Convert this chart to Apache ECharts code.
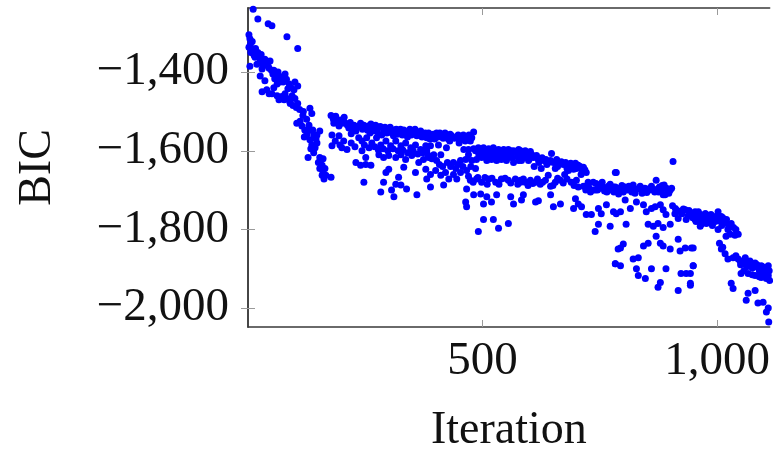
<!DOCTYPE html>
<html>
<head>
<meta charset="utf-8">
<script src="https://cdn.jsdelivr.net/npm/echarts@6/dist/echarts.min.js"></script>
<style>
html,body{margin:0;padding:0;background:#fff;}
#chart{width:773px;height:459px;}
</style>
</head>
<body>
<div id="chart"></div>
<script>
// [iteration, BIC], grouped by stretch of the run
var phaseA=[[11,-1240],[21,-1265],[43,-1277],[51,-1282],[83,-1310],[106,-1340],
[2,-1305],[9,-1322],[2,-1337],[11,-1342],[21,-1350],[15,-1362],[26,-1372],[36,-1367],[47,-1372],[4,-1385],[19,-1380],[30,-1392],[43,-1385],
[6,-1350],[13,-1357],[32,-1380],[55,-1395],[4,-1315],
[5,-1330],[8,-1345],[16,-1340],[24,-1360],[28,-1355],[33,-1370],[39,-1378],[45,-1390],[50,-1395],[58,-1400],[60,-1410],[66,-1415],[70,-1420],[75,-1425],[82,-1418],[88,-1430],[92,-1440],[98,-1445],
[26,-1410],[36,-1422],[53,-1405],[57,-1417],[64,-1400],[72,-1412],[79,-1405],[62,-1430],[68,-1425],[100,-1425],[106,-1435],
[30,-1450],[40,-1445],[51,-1455],[62,-1460],[72,-1462],[79,-1455],[83,-1467],[89,-1475],[94,-1460],[100,-1467],[96,-1485],[106,-1480],[85,-1442],
[55,-1440],[45,-1455],[66,-1470],[77,-1470],[90,-1480],[103,-1490],[110,-1495],[118,-1500],
[132,-1492],[136,-1505],[117,-1510],[111,-1525],[104,-1530],[115,-1537],[121,-1547],[128,-1550],[138,-1547],[147,-1560],[125,-1560],[132,-1572],[136,-1585],[147,-1580],[153,-1550],[143,-1592],[128,-1617],
[125,-1520],[130,-1535],[140,-1560],[120,-1565],[134,-1595],[140,-1605],[145,-1570],
[153,-1617],[160,-1620],[150,-1630],[158,-1637],[153,-1645],[164,-1645],[160,-1655],[166,-1662],[158,-1662],[162,-1672]];

var phaseB=[[177,-1510],[187,-1512],[198,-1522],[183,-1530],[194,-1537],[208,-1530],[215,-1542],[226,-1535],[236,-1537],[247,-1535],[257,-1537],[268,-1542],[279,-1540],[289,-1545],[300,-1547],[311,-1547],[321,-1550],[332,-1547],[343,-1550],[353,-1550],[364,-1555],[374,-1560],
[220,-1557],[230,-1550],[260,-1555],[285,-1560],[310,-1562],[340,-1565],
[182,-1520],[190,-1525],[200,-1530],[205,-1515],[212,-1535],[218,-1528],[224,-1545],[232,-1540],[240,-1530],[244,-1545],[250,-1540],[255,-1548],[262,-1532],[266,-1550],[272,-1535],[276,-1552],[282,-1538],[292,-1540],[296,-1555],[303,-1540],[307,-1555],[316,-1545],[318,-1558],[325,-1545],[329,-1560],[335,-1552],[345,-1545],[348,-1560],[356,-1545],[360,-1562],[368,-1550],[371,-1565],[378,-1555],
[179,-1560],[194,-1562],[204,-1575],[200,-1592],[179,-1587],[211,-1597],[236,-1567],[243,-1575],[253,-1567],[264,-1580],[274,-1567],[283,-1585],[294,-1575],[304,-1587],[315,-1575],[326,-1587],[336,-1580],[347,-1592],[357,-1585],[368,-1597],[379,-1587],
[186,-1575],[196,-1585],[220,-1580],[228,-1590],[248,-1585],[258,-1592],[270,-1590],[278,-1598],[288,-1595],[298,-1600],[309,-1595],[320,-1600],[330,-1598],[340,-1605],[352,-1600],[362,-1608],[372,-1605],
[243,-1600],[251,-1617],[230,-1630],[240,-1637],[251,-1635],[262,-1637],[279,-1610],[289,-1617],[300,-1612],[315,-1617],[326,-1610],[336,-1622],[349,-1612],[364,-1630],[374,-1622],[300,-1647],[332,-1642],[357,-1655],[294,-1655],
[247,-1680],[289,-1680],[283,-1705],[306,-1700],[311,-1717],[315,-1685],[326,-1687],[321,-1667],[338,-1697],[360,-1712],[177,-1667]];

var phaseC=[[381,-1567],[391,-1560],[402,-1555],[413,-1560],[423,-1562],[434,-1562],[445,-1565],[455,-1567],[466,-1565],[477,-1567],[481,-1552],
[385,-1555],[388,-1570],[395,-1558],[398,-1570],[405,-1565],[409,-1555],[416,-1568],[420,-1555],[427,-1570],[431,-1558],[440,-1568],[448,-1560],[452,-1572],[459,-1560],[463,-1575],[471,-1560],[474,-1575],
[460,-1597],[470,-1597],[481,-1595],[491,-1592],[502,-1592],[513,-1595],[523,-1592],[534,-1597],[545,-1597],[555,-1597],[566,-1600],[577,-1597],
[430,-1575],[450,-1580],[470,-1610],[495,-1605],[520,-1607],[545,-1610],[560,-1612],
[485,-1600],[492,-1610],[500,-1598],[506,-1612],[512,-1603],[517,-1615],[525,-1600],[530,-1612],[537,-1603],[542,-1615],[549,-1602],[553,-1615],[560,-1600],[563,-1618],[572,-1605],[575,-1615],
[381,-1600],[396,-1610],[385,-1617],[402,-1625],[411,-1610],[406,-1585],[423,-1592],[389,-1587],
[383,-1610],[392,-1620],[408,-1635],[415,-1640],[425,-1630],[432,-1640],[443,-1645],[448,-1635],[458,-1640],[475,-1640],[485,-1645],
[438,-1630],[453,-1625],[464,-1622],[477,-1625],[487,-1622],[498,-1617],[509,-1625],[519,-1622],[530,-1625],[540,-1622],[551,-1625],[566,-1630],[577,-1625],
[379,-1647],[389,-1660],[381,-1672],[400,-1650],[411,-1662],[421,-1655],[428,-1672],[438,-1660],[445,-1672],[453,-1655],[466,-1650],[474,-1675],[487,-1672],[498,-1680],[513,-1672],[528,-1680],[540,-1672],[555,-1675],[570,-1672],[581,-1680],
[470,-1665],[480,-1680],[490,-1668],[505,-1668],[510,-1685],[520,-1670],[535,-1685],[548,-1670],[560,-1682],[575,-1685],
[466,-1697],[481,-1712],[496,-1710],[509,-1717],[519,-1730],[530,-1712],[560,-1717],[566,-1735],[464,-1730],[466,-1742],[502,-1735],[417,-1687],[389,-1692],
[502,-1775],[523,-1775],[555,-1785],[491,-1805],[534,-1797]];

var phaseD=[[581,-1600],[591,-1600],[602,-1602],[583,-1612],[609,-1617],[619,-1622],[630,-1625],[647,-1607],[640,-1630],[651,-1630],[662,-1630],[672,-1635],[683,-1637],[694,-1635],[704,-1637],[715,-1642],[721,-1655],[694,-1647],[683,-1650],[583,-1625],[598,-1625],
[585,-1605],[588,-1618],[595,-1608],[600,-1620],[605,-1610],[615,-1612],[620,-1630],[627,-1618],[635,-1622],[637,-1635],[645,-1625],[658,-1622],[660,-1640],[668,-1628],[677,-1630],[680,-1645],[688,-1632],[698,-1632],[700,-1645],[708,-1640],[712,-1650],[718,-1648],
[610,-1640],[625,-1645],[655,-1645],[675,-1660],[710,-1660],
[581,-1675],[591,-1680],[602,-1675],[613,-1680],[623,-1685],[634,-1675],[640,-1662],[645,-1690],[655,-1680],[666,-1675],[689,-1680],[700,-1675],[704,-1692],[715,-1690],[726,-1692],[736,-1680],[747,-1690],[757,-1692],[768,-1690],[779,-1692],[783,-1655],
[587,-1672],[597,-1688],[607,-1683],[617,-1672],[628,-1680],[650,-1688],[660,-1670],[672,-1682],[680,-1672],[695,-1688],
[720,-1700],[740,-1700],[760,-1702],[730,-1705],
[725,-1680],[735,-1700],[742,-1683],[745,-1700],[750,-1695],[755,-1680],[765,-1705],[772,-1685],[775,-1700],[780,-1705],
[587,-1712],[583,-1725],[613,-1730],[619,-1727],[645,-1712],[651,-1742],[666,-1735],[694,-1747],[698,-1722],[704,-1735],[711,-1742],[721,-1762],[732,-1762],[747,-1747],[753,-1760],[764,-1737],[747,-1787],[740,-1805],[772,-1792],[779,-1755],[789,-1850],[783,-1887]];

var phaseE=[[906,-1627],[785,-1655],
[783,-1692],[794,-1697],[804,-1692],[815,-1700],[821,-1687],[832,-1697],[843,-1700],[853,-1697],[864,-1700],[870,-1675],[877,-1692],[887,-1687],[894,-1700],[900,-1700],[889,-1712],[885,-1712],[800,-1705],[825,-1708],[850,-1706],[875,-1705],
[788,-1695],[790,-1710],[797,-1688],[808,-1700],[812,-1690],[818,-1705],[823,-1695],[836,-1690],[840,-1708],[846,-1695],[856,-1700],[860,-1690],[867,-1705],[873,-1697],[880,-1700],[883,-1688],[892,-1695],[897,-1708],[903,-1695],
[911,-1747],[921,-1755],[932,-1750],[943,-1760],[953,-1755],[964,-1762],[975,-1760],[985,-1767],[917,-1772],[934,-1775],[955,-1780],[977,-1785],[966,-1787],
[905,-1740],[910,-1760],[915,-1752],[925,-1760],[928,-1748],[938,-1765],[940,-1752],[948,-1770],[950,-1758],[958,-1765],[962,-1775],[970,-1768],[972,-1780],[980,-1765],[983,-1782],[992,-1768],[995,-1772],
[804,-1725],[815,-1747],[828,-1730],[843,-1737],[849,-1755],[860,-1747],[868,-1742],[879,-1737],[885,-1750],[891,-1762],[853,-1787],[864,-1792],[874,-1785],[885,-1795],[900,-1787],[794,-1755],[806,-1787],[785,-1760],[870,-1817],[843,-1842],[853,-1835],[879,-1835],[885,-1842],[900,-1850],[917,-1825],[921,-1855],[932,-1847],[949,-1847],[794,-1847],[800,-1837],
[821,-1875],[832,-1872],[783,-1887],[794,-1892],[828,-1900],[832,-1917],[860,-1900],[891,-1900],[949,-1892],[847,-1925],[879,-1935],[874,-1947],[923,-1912],[934,-1912],[943,-1942],[917,-1955]];

var phaseF=[[945,-1760],[960,-1755],[975,-1760],[987,-1762],[1002,-1755],[1009,-1767],[953,-1775],[966,-1780],[981,-1775],[996,-1780],[1017,-1780],[1030,-1785],[964,-1792],[1002,-1800],[1023,-1800],[1019,-1817],[1028,-1812],[1045,-1812],[990,-1790],[1010,-1790],
[1000,-1765],[1005,-1778],[1012,-1770],[1014,-1785],[1020,-1775],[1025,-1790],[1035,-1795],[1040,-1800],[1038,-1815],[1005,-1835],[1012,-1845],
[945,-1847],[949,-1892],[943,-1912],[943,-1937],
[1009,-1850],[1017,-1862],[1023,-1875],[1034,-1872],[1040,-1867],[1049,-1880],[1060,-1872],[1055,-1887],[1066,-1885],[1072,-1892],[1081,-1885],[1087,-1897],[1094,-1892],[1102,-1900],[1109,-1892],[1051,-1912],[1066,-1912],[1081,-1917],[1094,-1922],[1109,-1917],
[1045,-1875],[1050,-1890],[1058,-1880],[1063,-1895],[1070,-1880],[1075,-1898],[1078,-1888],[1085,-1890],[1090,-1905],[1097,-1895],[1100,-1910],[1105,-1900],[1111,-1905],[1057,-1905],[1075,-1915],[1090,-1920],[1105,-1925],[1112,-1930],
[1030,-1937],[1034,-1950],[1066,-1962],[1081,-1955],[1062,-1980],[1087,-1987],[1098,-1985],[1109,-2000],[1113,-2017],[1105,-2010],[1110,-2035]];

var xRange=[0,1112];
var yRange=[-2048,-1237];
var xTicks=[500,1000];
var yTicks=[-2000,-1800,-1600,-1400];

var chart=echarts.init(document.getElementById('chart'));
var font='"Liberation Serif", "Times New Roman", serif';
var frame={show:true,lineStyle:{color:'#3a3a3a',width:1.5}};

function fmt(v){
    var s=Math.abs(v).toLocaleString('en-US');
    return v<0?'\u2212'+s:s;
}
function inTick(vals){
    return {show:true,inside:true,length:7,customValues:vals,lineStyle:{color:'#9a9a9a',width:1}};
}

var option={
    animation:false,
    backgroundColor:'#fff',
    grid:{left:248,top:8,width:525,height:324},
    xAxis:[{
        type:'value',min:xRange[0],max:xRange[1],
        name:'Iteration',nameLocation:'middle',nameGap:81,
        nameTextStyle:{fontFamily:font,fontSize:46,color:'#111'},
        axisLine:frame,axisTick:inTick(xTicks),splitLine:{show:false},
        axisLabel:{fontFamily:font,fontSize:47,color:'#111',margin:11,customValues:xTicks,formatter:fmt}
    },{
        type:'value',position:'top',min:xRange[0],max:xRange[1],
        axisLine:frame,axisTick:inTick(xTicks),axisLabel:{show:false},splitLine:{show:false}
    }],
    yAxis:[{
        type:'value',min:yRange[0],max:yRange[1],
        name:'BIC',nameLocation:'middle',nameGap:187,nameRotate:90,
        nameTextStyle:{fontFamily:font,fontSize:46,color:'#111'},
        axisLine:frame,axisTick:inTick(yTicks),splitLine:{show:false},
        axisLabel:{fontFamily:font,fontSize:47,color:'#111',margin:19,customValues:yTicks,formatter:fmt}
    },{
        type:'value',position:'right',min:yRange[0],max:yRange[1],
        axisLine:frame,axisTick:inTick(yTicks),axisLabel:{show:false},splitLine:{show:false}
    }],
    series:[{
        type:'scatter',
        symbol:'circle',
        symbolSize:7,
        itemStyle:{color:'#0000ff',opacity:1},
        data:[].concat(phaseA,phaseB,phaseC,phaseD,phaseE,phaseF)
    }]
};
chart.setOption(option);
</script>
</body>
</html>
